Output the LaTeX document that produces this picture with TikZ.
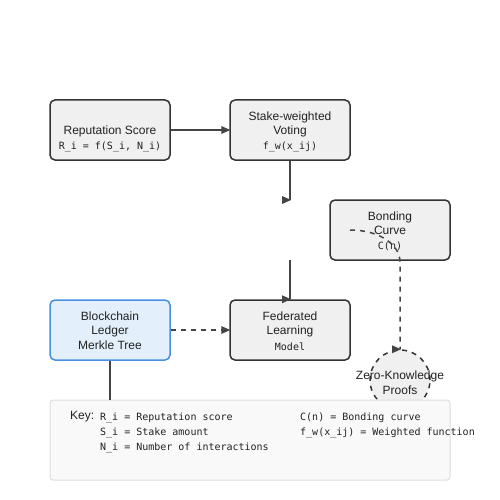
\documentclass[tikz,border=0pt]{standalone}
\usepackage{fontspec}
\setmainfont{Liberation Sans}
\setmonofont{DejaVu Sans Mono}
\definecolor{boxline}{HTML}{333333}
\definecolor{boxfill}{HTML}{F0F0F0}
\definecolor{linecol}{HTML}{444444}
\definecolor{bluel}{HTML}{4A90E2}
\definecolor{bluef}{HTML}{E3F0FC}
\definecolor{keyline}{HTML}{DDDDDD}
\definecolor{keyfill}{HTML}{F9F9F9}
\definecolor{txt}{HTML}{222222}
\newcommand\rtip[1]{\fill[linecol] (#1) ++(1,0) -- ++(-9,-4) -- ++(0,8) -- cycle;}
\begin{document}
\begin{tikzpicture}[x=1pt,y=-1pt,
  box/.style={draw=boxline, fill=boxfill, line width=1.5pt, rounded corners=5pt,
    minimum width=120pt, minimum height=60pt, inner sep=0pt},
  lbl/.style={anchor=base, inner sep=0pt, text=txt, font=\fontsize{12pt}{14pt}\selectfont},
  mono/.style={anchor=base, inner sep=0pt, text=txt, font=\ttfamily\fontsize{10pt}{12pt}\selectfont},
  keymono/.style={anchor=base west, inner sep=0pt, text=txt, font=\ttfamily\fontsize{10pt}{12pt}\selectfont},
  conn/.style={draw=linecol, line width=1.5pt},
  dsh/.style={conn, dash pattern=on 5pt off 5pt}]
\useasboundingbox[fill=white] (0,0) rectangle (500,500);

% boxes
\node[box] (rep) at (110,130) {};
\node[box] (vote) at (290,130) {};
\node[box] (bond) at (390,230) {};
\node[box] (fed) at (290,330) {};
\node[box, draw=bluel, fill=bluef] (chain) at (110,330) {};
\node[circle, draw=boxline, fill=boxfill, line width=1.5pt, dash pattern=on 5pt off 5pt,
  minimum size=60pt, inner sep=0pt] (zk) at (400,380) {};
\node[draw=keyline, fill=keyfill, line width=1pt, rounded corners=3pt,
  minimum width=400pt, minimum height=80pt, inner sep=0pt] (key) at (250,440) {};

% texts
\node[lbl] (t1) at (110,134.3) {Reputation Score};
\node[mono] (t2) at (110,149.6) {R\_i = f(S\_i, N\_i)};
\node[lbl] (t3) at (290,120.3) {Stake-weighted};
\node[lbl] (t4) at (290,134.8) {Voting};
\node[mono] (t5) at (290,149.6) {f\_w(x\_ij)};
\node[lbl] (t6) at (390,220.3) {Bonding};
\node[lbl] (t7) at (390,234.8) {Curve};
\node[mono] (t8) at (390,249.6) {C(n)};
\node[lbl] (t9) at (290,320.3) {Federated};
\node[lbl] (t10) at (290,334.8) {Learning};
\node[mono] (t11) at (290,350) {Model};
\node[lbl] (t12) at (110,320.3) {Blockchain};
\node[lbl] (t13) at (110,334.8) {Ledger};
\node[lbl] (t14) at (110,349.3) {Merkle Tree};
\node[lbl] (t15) at (400,379.3) {Zero-Knowledge};
\node[lbl] (t16) at (400,394) {Proofs};
\node[lbl, anchor=base west] (k0) at (70,419) {Key:};
\node[keymono] (k1) at (100,420) {R\_i = Reputation score};
\node[keymono] (k2) at (100,435) {S\_i = Stake amount};
\node[keymono] (k3) at (100,450) {N\_i = Number of interactions};
\node[keymono] (k4) at (300,420) {C(n) = Bonding curve};
\node[keymono] (k5) at (300,435) {f\_w(x\_ij) = Weighted function};

% connectors
\draw[conn] (rep.east) -- (vote.west); \rtip{vote.west}
\coordinate (v1) at (290,200);
\draw[conn] (vote.south) -- (v1); \rtip{v1}
\coordinate (v2) at (290,260);
\draw[conn] (v2) -- (fed.north); \rtip{fed.north}
\draw[dsh] (chain.east) -- (fed.west); \rtip{fed.west}
\draw[conn] (chain.south) -- (chain.south |- key.north);
\coordinate (c0) at (350,230);
\draw[dsh] (c0) .. controls (380,230) and (400,245) .. (400,262) -- (zk.north); \rtip{zk.north}
\end{tikzpicture}
\end{document}
